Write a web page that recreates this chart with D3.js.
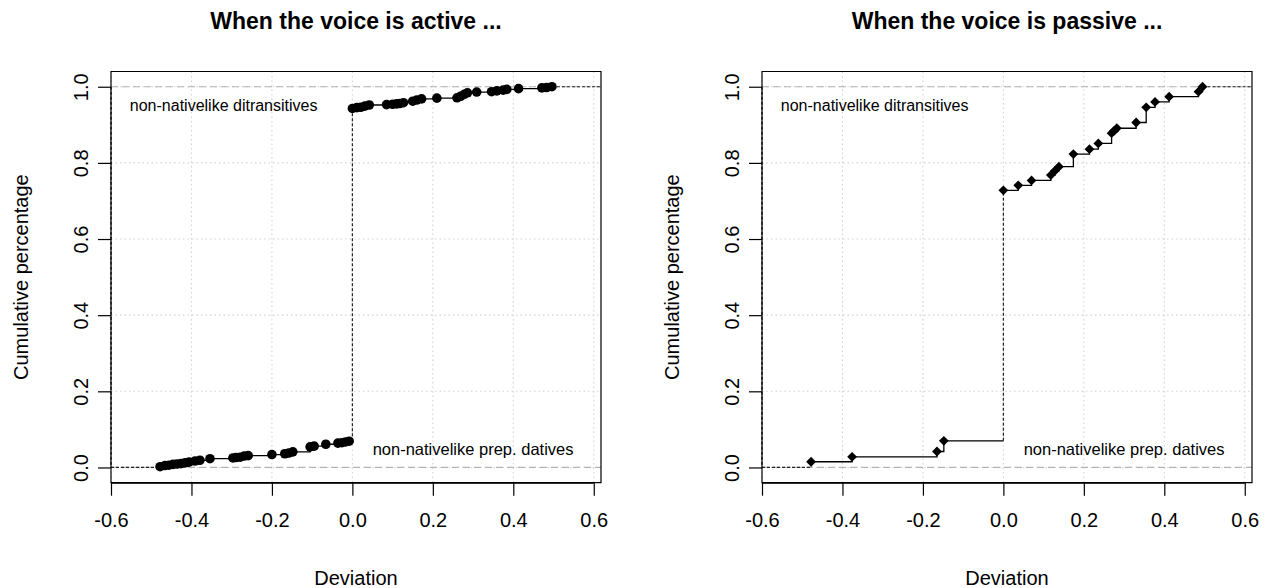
<!DOCTYPE html>
<html>
<head>
<meta charset="utf-8">
<script src="https://cdn.jsdelivr.net/npm/d3@7"></script>
<style>
  html, body { margin: 0; padding: 0; background: #fff; }
  svg { display: block; font-family: "Liberation Sans", Arial, Helvetica, sans-serif; }
</style>
</head>
<body>
<svg id="chart" width="1270" height="588"></svg>
<script>
// Empirical cumulative distributions of the deviation scores, by voice.
// Each pair of arrays gives the step points: deviation and cumulative share.
const activeDeviation = [
  -0.478, -0.466, -0.456, -0.446, -0.436, -0.426, -0.416, -0.406, -0.391, -0.379,
  -0.354, -0.297, -0.289, -0.279, -0.269, -0.259, -0.200, -0.168, -0.158, -0.148,
  -0.105, -0.095, -0.066, -0.036, -0.026, -0.017, -0.008,
  0.000, 0.011, 0.021, 0.031, 0.042, 0.085, 0.100, 0.110, 0.118, 0.127,
  0.150, 0.160, 0.172, 0.210, 0.260, 0.269, 0.278, 0.286, 0.309, 0.346,
  0.359, 0.375, 0.384, 0.413, 0.471, 0.483, 0.496
];
const activeCumulative = [
  0.002, 0.005, 0.006, 0.008, 0.009, 0.010, 0.012, 0.014, 0.017, 0.019,
  0.023, 0.025, 0.026, 0.027, 0.030, 0.031, 0.034, 0.036, 0.038, 0.041,
  0.054, 0.056, 0.061, 0.064, 0.065, 0.067, 0.069,
  0.943, 0.945, 0.946, 0.949, 0.952, 0.953, 0.954, 0.955, 0.956, 0.958,
  0.962, 0.965, 0.968, 0.970, 0.971, 0.975, 0.980, 0.984, 0.986, 0.987,
  0.989, 0.991, 0.993, 0.995, 0.997, 0.998, 1.000
];

const passiveDeviation = [
  -0.478, -0.376, -0.165, -0.148,
  0.000, 0.037, 0.070, 0.118, 0.128, 0.138, 0.174, 0.214, 0.236,
  0.269, 0.275, 0.282, 0.330, 0.355, 0.377, 0.412, 0.485, 0.495
];
const passiveCumulative = [
  0.015, 0.028, 0.042, 0.070,
  0.728, 0.741, 0.754, 0.768, 0.779, 0.790, 0.823, 0.836, 0.851,
  0.878, 0.884, 0.891, 0.906, 0.946, 0.960, 0.974, 0.987, 1.000
];

const xTicks = [-0.6, -0.4, -0.2, 0.0, 0.2, 0.4, 0.6];
const yTicks = [0.0, 0.2, 0.4, 0.6, 0.8, 1.0];
const titles = ["When the voice is active ...", "When the voice is passive ..."];
const upperNote = "non-nativelike ditransitives";
const lowerNote = "non-nativelike prep. datives";
const xTitle = "Deviation";
const yTitle = "Cumulative percentage";

const xDomain = [-0.6, 0.618];
const yDomain = [-0.04, 1.04];

const svg = d3.select("#chart");

const panels = [
  { left: 111, right: 601, dev: activeDeviation, cum: activeCumulative, marker: "circle", title: titles[0] },
  { left: 762, right: 1252, dev: passiveDeviation, cum: passiveCumulative, marker: "diamond", title: titles[1] }
];
const plotTop = 71.5, plotBottom = 482.7;

const fmt = d3.format(".1f");
const tickFmt = d => fmt(d).replace("\u2212", "-");

panels.forEach(p => {
  const x = d3.scaleLinear().domain(xDomain).range([p.left, p.right]);
  const y = d3.scaleLinear().domain(yDomain).range([plotBottom, plotTop]);
  const g = svg.append("g");

  // grid
  g.append("g").selectAll("line").data(xTicks).join("line")
    .attr("x1", d => x(d)).attr("x2", d => x(d))
    .attr("y1", plotTop).attr("y2", plotBottom)
    .attr("stroke", "#d3d3d3").attr("stroke-width", 1.1).attr("stroke-dasharray", "1.5,3");
  g.append("g").selectAll("line").data(yTicks).join("line")
    .attr("x1", p.left).attr("x2", p.right)
    .attr("y1", d => y(d)).attr("y2", d => y(d))
    .attr("stroke", "#d3d3d3").attr("stroke-width", 1.1).attr("stroke-dasharray", "1.5,3");

  // reference lines at 0 and 1
  g.append("g").selectAll("line").data([0, 1]).join("line")
    .attr("x1", p.left).attr("x2", p.right)
    .attr("y1", d => y(d)).attr("y2", d => y(d))
    .attr("stroke", "#b3b3b3").attr("stroke-width", 1.2).attr("stroke-dasharray", "7,4");

  // step function
  const pts = p.dev.map((d, i) => [d, p.cum[i]]);
  const neg = pts.filter(d => d[0] < 0);
  const pos = pts.filter(d => d[0] >= 0);
  const stepLine = d3.line().x(d => x(d[0])).y(d => y(d[1])).curve(d3.curveStepAfter);

  // dashed pieces: lead-in at 0, jump at zero, tail at 1
  const dashed = [
    [[xDomain[0], 0], [neg[0][0], 0], [neg[0][0], neg[0][1]]],
    [[0, neg[neg.length - 1][1]], [0, pos[0][1]]],
    [[pos[pos.length - 1][0], 1], [xDomain[1], 1]]
  ];
  g.append("g").selectAll("path").data(dashed).join("path")
    .attr("d", d3.line().x(d => x(d[0])).y(d => y(d[1])))
    .attr("fill", "none").attr("stroke", "#222").attr("stroke-width", 1.2)
    .attr("stroke-dasharray", "3,2");

  g.append("path")
    .datum(neg.concat([[0, neg[neg.length - 1][1]]]))
    .attr("d", stepLine)
    .attr("fill", "none").attr("stroke", "#000").attr("stroke-width", 1.3);
  g.append("path")
    .datum(pos)
    .attr("d", stepLine)
    .attr("fill", "none").attr("stroke", "#000").attr("stroke-width", 1.3);

  // markers
  if (p.marker === "circle") {
    g.append("g").selectAll("circle").data(pts).join("circle")
      .attr("cx", d => x(d[0])).attr("cy", d => y(d[1])).attr("r", 4.8)
      .attr("fill", "#000");
  } else {
    const sym = d3.symbol().type(d3.symbolSquare).size(48);
    g.append("g").selectAll("path").data(pts).join("path")
      .attr("d", sym)
      .attr("transform", d => `translate(${x(d[0])},${y(d[1])}) rotate(45)`)
      .attr("fill", "#000");
  }

  // notes
  g.append("text").attr("x", x(-0.32)).attr("y", y(0.952)).attr("dy", "0.35em")
    .attr("text-anchor", "middle").attr("font-size", 16).text(upperNote);
  g.append("text").attr("x", x(0.30)).attr("y", y(0.048)).attr("dy", "0.35em")
    .attr("text-anchor", "middle").attr("font-size", 16.5).text(lowerNote);

  // frame
  g.append("path")
    .attr("d", `M${p.left},${y(1)}V${plotTop}H${p.right}V${plotBottom}H${p.left}V${y(0)}`)
    .attr("fill", "none").attr("stroke", "#000").attr("stroke-width", 1.2);
  g.append("line")
    .attr("x1", p.left).attr("x2", p.left).attr("y1", y(1)).attr("y2", y(0))
    .attr("stroke", "#000").attr("stroke-width", 1.2).attr("stroke-dasharray", "3,2");

  // x axis
  const xAxis = d3.axisBottom(x).tickValues(xTicks).tickFormat(tickFmt).tickSize(13).tickPadding(12);
  const gx = g.append("g").attr("transform", `translate(0,${plotBottom})`).call(xAxis);
  gx.select(".domain").attr("d", `M${x(xTicks[0])},0.5H${x(xTicks[xTicks.length - 1])}`)
    .attr("stroke", "#000").attr("stroke-width", 1.2);
  gx.selectAll(".tick line").attr("stroke", "#000").attr("stroke-width", 1.2);
  gx.selectAll(".tick text").attr("font-size", 20).attr("fill", "#000")
    .attr("font-family", "Liberation Sans, Arial, sans-serif").attr("dy", "0.95em");

  // y axis
  const yAxis = d3.axisLeft(y).tickValues(yTicks).tickFormat(fmt).tickSize(13).tickPadding(8);
  const gy = g.append("g").attr("transform", `translate(${p.left},0)`).call(yAxis);
  gy.select(".domain").attr("d", `M0,${y(0)}V${y(1)}`).attr("stroke", "#000").attr("stroke-width", 1.2);
  gy.selectAll(".tick line").attr("stroke", "#000").attr("stroke-width", 1.2);
  gy.selectAll(".tick text")
    .attr("font-size", 20).attr("fill", "#000")
    .attr("font-family", "Liberation Sans, Arial, sans-serif")
    .attr("text-anchor", "middle").attr("x", null).attr("dy", null)
    .attr("transform", "translate(-23,0) rotate(-90)");

  // titles
  const cx = (p.left + p.right) / 2;
  g.append("text").attr("x", cx).attr("y", 29).attr("text-anchor", "middle")
    .attr("font-size", 23).attr("font-weight", "bold").text(p.title);
  g.append("text").attr("x", cx).attr("y", 585).attr("text-anchor", "middle")
    .attr("font-size", 20).text(xTitle);
  g.append("text")
    .attr("transform", `translate(${p.left - 83},${(plotTop + plotBottom) / 2}) rotate(-90)`)
    .attr("text-anchor", "middle").attr("font-size", 20).text(yTitle);
});
</script>
</body>
</html>
